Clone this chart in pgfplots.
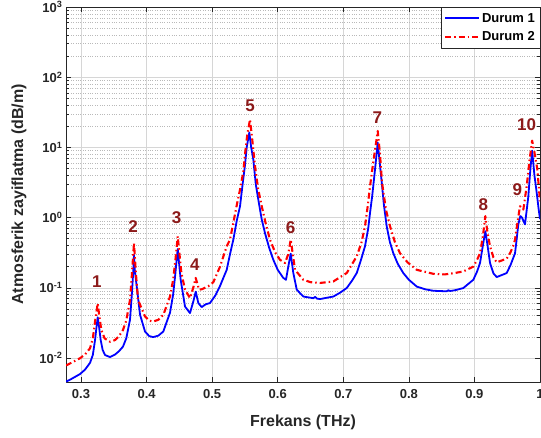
\documentclass[border=0pt]{standalone}
\usepackage{fontspec}
\setmainfont{Liberation Sans}
\usepackage{pgfplots}
\pgfplotsset{compat=1.18}
\definecolor{peak}{RGB}{140,26,26}
\definecolor{axc}{gray}{0.15}
\begin{document}
\begin{tikzpicture}
\begin{semilogyaxis}[
  scale only axis, width=474pt, height=375pt,
  xmin=0.2771, xmax=1.0, ymin=0.00454, ymax=1000,
  xtick={0.3,0.4,0.5,0.6,0.7,0.8,0.9,1.0},
  xticklabels={0.3,0.4,0.5,0.6,0.7,0.8,0.9,1},
  ytick={0.01,0.1,1,10,100,1000},
  yticklabels={10\textsuperscript{-2},10\textsuperscript{-1},10\textsuperscript{0},10\textsuperscript{1},10\textsuperscript{2},10\textsuperscript{3}},
  ticklabel style={font=\bfseries\fontsize{13}{15}\selectfont, text=axc},
  xticklabel style={yshift=-4pt},
  grid=both,
  major grid style={gray!32, line width=0.5pt},
  minor grid style={gray!55, dotted, line width=0.5pt},
  minor x tick num=0,
  axis line style={axc, line width=0.6pt},
  tick style={axc, line width=0.5pt},
  tick align=inside, major tick length=5pt, minor tick length=3pt,
  xlabel={Frekans (THz)}, ylabel={Atmosferik zayiflatma (dB/m)},
  label style={font=\bfseries\fontsize{16}{18}\selectfont, text=axc},
  xlabel style={at={(axis description cs:0.5,-0.107)}, anchor=center},
  ylabel style={at={(axis description cs:-0.099,0.5)}, anchor=center},
  legend style={at={(1,1)}, anchor=north east, draw=axc, fill=white,
    font=\bfseries\fontsize{13}{15}\selectfont, inner xsep=3pt, inner ysep=4pt,
    row sep=4pt, cells={anchor=west}},
  legend image code/.code={\draw[#1, line width=1.9pt] (0pt,0pt) -- (34pt,0pt);},
  line join=round,
]
\addplot[blue, line width=1.8pt] table {
0.2771 0.0046
0.285 0.0050
0.2985 0.0059
0.306 0.0068
0.3137 0.0085
0.318 0.0110
0.3214 0.0180
0.3235 0.0270
0.3255 0.0380
0.3275 0.0280
0.330 0.0180
0.333 0.0130
0.3366 0.0110
0.3442 0.0103
0.352 0.0112
0.358 0.0125
0.364 0.0145
0.369 0.0190
0.3747 0.0350
0.3775 0.0800
0.3798 0.1800
0.3808 0.2950
0.382 0.1800
0.385 0.1040
0.390 0.0414
0.3976 0.0238
0.404 0.0205
0.410 0.0198
0.418 0.0208
0.4255 0.0238
0.4357 0.0440
0.4405 0.0800
0.4434 0.1440
0.4475 0.3570
0.452 0.1300
0.4586 0.0540
0.4662 0.0436
0.4713 0.0640
0.4750 0.0880
0.4789 0.0606
0.484 0.0530
0.490 0.0580
0.4967 0.0606
0.505 0.0780
0.512 0.1060
0.518 0.1450
0.5222 0.1800
0.5272 0.3000
0.5323 0.4850
0.5375 0.9000
0.5425 1.4500
0.547 3.3000
0.550 5.5000
0.5527 10.000
0.5567 16.300
0.5595 10.000
0.5628 6.7000
0.5665 3.0000
0.5704 1.8000
0.5755 0.9500
0.5806 0.6000
0.5870 0.3700
0.5933 0.2500
0.600 0.1800
0.6085 0.1380
0.6126 0.1300
0.6161 0.2000
0.6198 0.3060
0.6238 0.1620
0.629 0.0940
0.639 0.0750
0.6543 0.0710
0.6570 0.0740
0.6600 0.0700
0.6645 0.0690
0.6848 0.0750
0.695 0.0850
0.7052 0.0990
0.713 0.1250
0.7205 0.1620
0.727 0.2500
0.7331 0.3900
0.738 0.7000
0.7408 1.1700
0.7440 2.0000
0.7465 3.3000
0.749 5.5000
0.7525 11.700
0.7560 5.5000
0.7586 3.2000
0.7620 1.5000
0.7662 0.7500
0.771 0.4500
0.7763 0.3100
0.783 0.2200
0.7915 0.1620
0.800 0.1300
0.812 0.1040
0.825 0.0950
0.8373 0.0906
0.8577 0.0890
0.860 0.0920
0.863 0.0900
0.870 0.0920
0.883 0.0990
0.8983 0.1300
0.9040 0.1700
0.9085 0.2250
0.9125 0.3800
0.9166 0.6400
0.9200 0.4000
0.9238 0.2250
0.929 0.1600
0.934 0.1420
0.9492 0.1620
0.955 0.2100
0.9619 0.3100
0.9645 0.5000
0.9669 0.8000
0.9700 1.0500
0.9725 1.0000
0.9771 0.8000
0.9822 2.0000
0.9850 4.5000
0.9880 9.0000
0.9915 4.0000
0.995 2.2500
0.998 1.3000
1.000 0.9500
};
\addlegendentry{Durum 1}
\addplot[red, line width=2.1pt, dash pattern=on 6pt off 3pt on 1.5pt off 3pt] table {
0.2771 0.0078
0.2985 0.0099
0.306 0.0112
0.3137 0.0137
0.318 0.0190
0.3214 0.0330
0.3235 0.0450
0.3255 0.0600
0.3275 0.0420
0.331 0.0250
0.336 0.0190
0.3442 0.0170
0.352 0.0180
0.358 0.0205
0.364 0.0250
0.369 0.0340
0.3747 0.0670
0.3775 0.1500
0.3808 0.4350
0.3835 0.1700
0.387 0.0670
0.3976 0.0390
0.404 0.0340
0.410 0.0330
0.418 0.0350
0.4255 0.0410
0.4357 0.0750
0.4405 0.1300
0.444 0.2500
0.4475 0.5400
0.453 0.1640
0.4586 0.0940
0.4662 0.0713
0.4713 0.1010
0.4749 0.1380
0.480 0.0940
0.484 0.0950
0.4941 0.1050
0.5018 0.1200
0.512 0.2000
0.5222 0.3900
0.5272 0.4850
0.5375 1.5000
0.5425 2.5000
0.5475 4.5000
0.5501 8.0000
0.5535 15.000
0.5577 25.000
0.5615 12.000
0.5654 5.4000
0.570 2.6000
0.5756 1.4500
0.5820 0.8000
0.5882 0.4850
0.5960 0.3200
0.6035 0.2500
0.6111 0.2250
0.6160 0.3000
0.6198 0.4850
0.6230 0.3000
0.6264 0.1800
0.639 0.1300
0.650 0.1200
0.6645 0.1170
0.6848 0.1230
0.7052 0.1620
0.7205 0.2800
0.7280 0.4500
0.7331 0.7500
0.7370 1.4000
0.7408 2.8000
0.7450 5.5000
0.7490 10.000
0.7525 17.100
0.7560 8.0000
0.7590 3.2000
0.7650 1.3000
0.7713 0.7500
0.7786 0.4500
0.7865 0.3100
0.798 0.2300
0.812 0.1800
0.8373 0.1580
0.855 0.1550
0.870 0.1620
0.883 0.1710
0.8983 0.2000
0.9040 0.2500
0.9085 0.3100
0.9130 0.5500
0.9166 1.0500
0.9200 0.6000
0.9238 0.3900
0.929 0.2700
0.934 0.2300
0.9492 0.2600
0.955 0.3200
0.9593 0.4000
0.9619 0.4850
0.9660 0.9000
0.9695 1.4500
0.9746 1.3000
0.9797 2.8000
0.9840 6.5000
0.9880 12.500
0.9915 8.5000
0.9959 4.9000
1.000 1.7000
};
\addlegendentry{Durum 2}
\begin{scope}[every node/.style={text=peak, font=\bfseries\fontsize{17}{19}\selectfont}]
\node at (axis cs:0.3240,0.123) {1};
\node at (axis cs:0.3793,0.743) {2};
\node at (axis cs:0.4459,0.99) {3};
\node at (axis cs:0.4738,0.213) {4};
\node at (axis cs:0.5577,39.8) {5};
\node at (axis cs:0.6195,0.72) {6};
\node at (axis cs:0.7520,26.8) {7};
\node at (axis cs:0.9135,1.53) {8};
\node at (axis cs:0.9654,2.51) {9};
\node at (axis cs:0.9797,21.3) {10};
\end{scope}
\end{semilogyaxis}
\pgfresetboundingbox
\path ([shift={(-66pt,-55pt)}]current axis.south west) rectangle ([shift={(1pt,7pt)}]current axis.north east);
\end{tikzpicture}
\end{document}
